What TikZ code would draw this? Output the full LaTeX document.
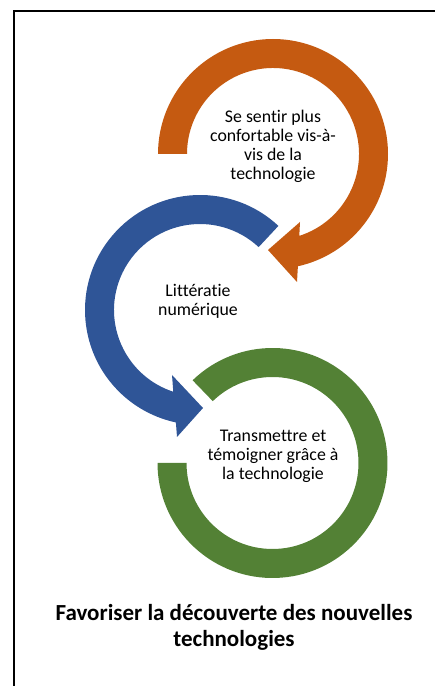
\documentclass[tikz,border=0pt]{standalone}
\usepackage{fontspec}
\setmainfont{Carlito}[Ligatures={NoCommon}]
\usetikzlibrary{calc}
\definecolor{orangeC}{HTML}{C55A11}
\definecolor{blueC}{HTML}{2F5597}
\definecolor{greenC}{HTML}{538135}
\begin{document}
\begin{tikzpicture}[x=1pt,y=1pt,
  ringtext/.style={align=center, anchor=base, font=\fontsize{17.8}{19.3}\selectfont, inner sep=0pt},
  titletext/.style={align=center, anchor=base, font=\bfseries\fontsize{23}{26}\selectfont, inner sep=0pt},
  frameline/.style={line width=1.5pt, line join=miter}]
\useasboundingbox (0,0) rectangle (435,686);
% frame
\coordinate (fbl) at (14,-2);
\coordinate (ftl) at (14,675);
\coordinate (ftr) at (435,675);
\draw[frameline] (fbl) -- (ftl) -- (ftr);
% centres
\coordinate (O) at (273,532);
\coordinate (B) at (200,376);
\coordinate (G) at (272.5,223);
% arrow head points
\coordinate (ob) at (297,404);
\coordinate (ot) at (268,436);
\coordinate (oi) at (300,464);
\coordinate (bb) at (177,249);
\coordinate (bt) at (203,278);
\coordinate (bi) at (172,311);
% orange circular arrow
\fill[orangeC] ($(O)+(180:115)$) arc[start angle=180,end angle=-77.5,radius=115]
  -- (ob) -- (ot) -- (oi) -- ($(O)+(-72.2:86)$) arc[start angle=-72.2,end angle=180,radius=86] -- cycle;
% blue circular arrow
\fill[blueC] ($(B)+(47:115)$) arc[start angle=47,end angle=257.9,radius=115]
  -- (bb) -- (bt) -- (bi) -- ($(B)+(251.9:86)$) arc[start angle=251.9,end angle=47,radius=86] -- cycle;
% green ring
\fill[greenC] ($(G)+(134:115)$) arc[start angle=134,end angle=-180,radius=115]
  -- ($(G)+(180:86)$) arc[start angle=-180,end angle=134,radius=86] -- cycle;
% texts (anchor base = baseline of last line)
\node[ringtext] (t1) at (273,506) {Se sentir plus\\confortable vis-à-\\vis de la\\technologie};
\node[ringtext] (t2) at (198,370) {Littératie\\numérique};
\node[ringtext] (t3) at (273,206) {Transmettre et\\témoigner grâce à\\la technologie};
\node[titletext] (t4) at (234,39) {Favoriser la découverte des nouvelles\\technologies};
\end{tikzpicture}
\end{document}
